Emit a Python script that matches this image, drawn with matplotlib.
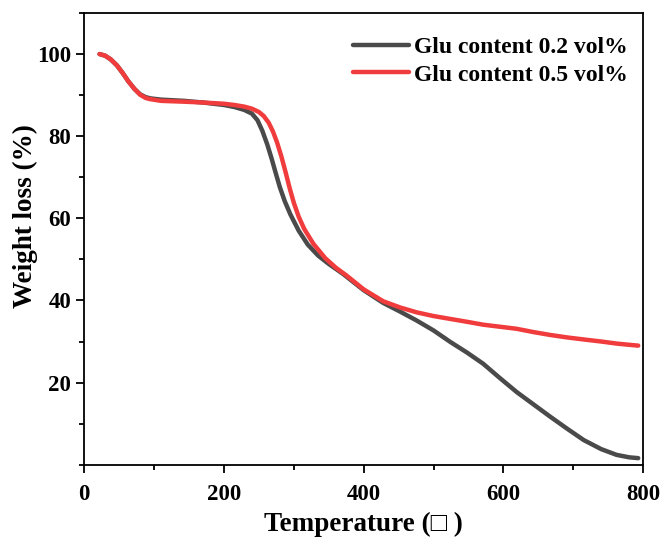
import matplotlib
matplotlib.use("Agg")
import matplotlib.pyplot as plt
from matplotlib.ticker import MultipleLocator

# ── Data ────────────────────────────────────────────────────────────────────
temp_02 = [22, 30, 38, 47, 55, 63, 72, 80, 88, 95, 110, 143, 170, 200, 215, 229,
           240, 248, 255, 262, 268, 274, 280, 287, 295, 307, 320, 335, 350, 371,
           400, 428, 452, 476, 500, 524, 548, 571, 595, 619, 643, 667, 691, 715,
           740, 762, 780, 793]
wl_02 = [100.0, 99.6, 98.7, 97.2, 95.4, 93.4, 91.5, 90.2, 89.5, 89.2, 88.9, 88.6,
         88.2, 87.6, 87.1, 86.4, 85.5, 83.9, 81.3, 78.0, 74.7, 71.1, 67.6, 64.2,
         61.0, 57.0, 53.6, 50.9, 48.9, 46.4, 42.5, 39.4, 37.3, 35.1, 32.7, 29.9,
         27.3, 24.6, 21.1, 17.7, 14.7, 11.7, 8.8, 6.0, 3.8, 2.4, 1.8, 1.6]

temp_05 = [22, 30, 38, 47, 55, 63, 72, 80, 88, 95, 110, 143, 170, 200, 215, 229,
           240, 250, 257, 264, 270, 276, 282, 288, 294, 300, 307, 315, 328, 345,
           360, 376, 400, 428, 452, 476, 500, 524, 548, 571, 595, 619, 643, 667,
           691, 715, 740, 762, 780, 793]
wl_05 = [100.0, 99.6, 98.7, 97.2, 95.4, 93.4, 91.5, 90.1, 89.3, 89.0, 88.6, 88.4,
         88.2, 87.9, 87.6, 87.2, 86.7, 85.9, 84.9, 83.3, 81.2, 78.5, 75.2, 71.4,
         67.4, 63.8, 60.4, 57.4, 53.8, 50.3, 48.0, 46.0, 42.7, 39.8, 38.3, 37.1,
         36.2, 35.5, 34.8, 34.1, 33.6, 33.1, 32.3, 31.6, 31.0, 30.5, 30.0, 29.5,
         29.2, 29.0]

labels = ["Glu content 0.2 vol%", "Glu content 0.5 vol%"]
colors = ["#4a4a4a", "#f03c3c"]

plt.rcParams["font.family"] = ["Liberation Serif", "DejaVu Serif"]
plt.rcParams["font.weight"] = "bold"

fig = plt.figure(figsize=(6.63, 5.41), dpi=100)
ax = fig.add_axes([0.127, 0.141, 0.843, 0.835])

ax.plot(temp_02, wl_02, color=colors[0], lw=3.2, label=labels[0],
        solid_capstyle="round", solid_joinstyle="round")
ax.plot(temp_05, wl_05, color=colors[1], lw=3.2, label=labels[1],
        solid_capstyle="round", solid_joinstyle="round")

ax.set_xlim(0, 800)
ax.set_ylim(0, 110)
ax.xaxis.set_major_locator(MultipleLocator(200))
ax.xaxis.set_minor_locator(MultipleLocator(100))
ax.set_yticks([20, 40, 60, 80, 100])
ax.yaxis.set_minor_locator(MultipleLocator(10))

ax.tick_params(which="major", direction="out", length=6, width=1.3,
               labelsize=16.5, top=False, right=False)
ax.tick_params(axis="x", which="major", pad=8)
ax.tick_params(which="minor", direction="out", length=3.5, width=1.3,
               top=False, right=False)
for lab in ax.get_xticklabels() + ax.get_yticklabels():
    lab.set_fontweight("bold")
for sp in ax.spines.values():
    sp.set_linewidth(1.3)

ax.set_xlabel("Temperature (\u25a1 )", fontsize=19.5, fontweight="bold")
ax.set_ylabel("Weight loss (%)", fontsize=19.5, fontweight="bold")
ax.xaxis.set_label_coords(0.5, -0.105)
ax.yaxis.set_label_coords(-0.083, 0.55)

leg = ax.legend(loc="upper right", frameon=False, fontsize=17,
                handlelength=2.4, handletextpad=0.2, labelspacing=0.25,
                borderaxespad=0.6, bbox_to_anchor=(1.015, 1.0))
for t in leg.get_texts():
    t.set_fontweight("bold")

fig.savefig("out.png", dpi=100)
